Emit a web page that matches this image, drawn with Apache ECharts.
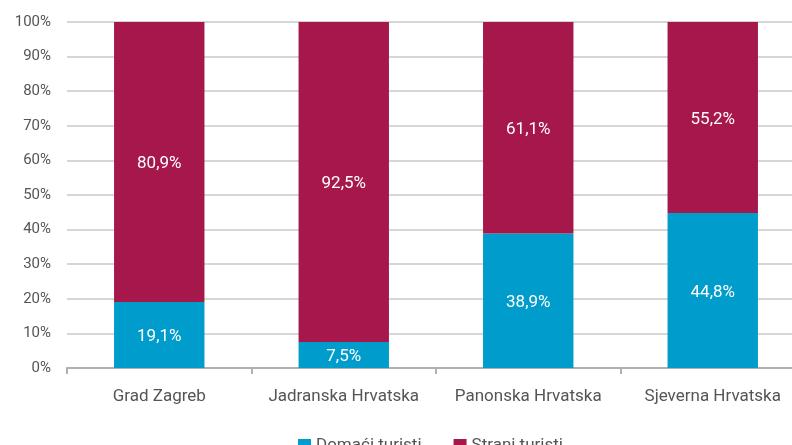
<!DOCTYPE html>
<html>
<head>
<meta charset="utf-8">
<script src="https://cdn.jsdelivr.net/npm/echarts@6/dist/echarts.min.js"></script>
<style>
    html, body { margin: 0; padding: 0; background: #fff; }
    #chart { width: 792px; height: 445px; }
</style>
</head>
<body>
<div id="chart"></div>
<script>
// 数据
const categories = ['Grad Zagreb', 'Jadranska Hrvatska', 'Panonska Hrvatska', 'Sjeverna Hrvatska']
const domaci = [19.1, 7.5, 38.9, 44.8]
const strani = [80.9, 92.5, 61.1, 55.2]
const seriesNames = ['Domaći turisti', 'Strani turisti']

const chart = echarts.init(document.getElementById('chart'))
const font = 'Roboto, "DejaVu Sans", sans-serif'
// 标签 - 小数点用逗号
const fmt = function (p) {
    return p.value.toFixed(1).replace('.', ',') + '%'
}
const option = {
    animation: false,
    color: ['#009ccb', '#a6174b'],
    textStyle: { fontFamily: font },
    legend: {
        data: seriesNames,
        left: 293,
        top: 432,
        itemWidth: 13,
        itemHeight: 13,
        itemGap: 32,
        icon: 'rect',
        textStyle: { color: '#555', fontSize: 17, fontFamily: font }
    },
    // 网格 - 右侧超出画布
    grid: {
        left: 67,
        width: 738,
        top: 22,
        bottom: 77,
        containLabel: false,
        outerBoundsMode: 'none'
    },
    xAxis: {
        type: 'category',
        data: categories,
        axisLine: { lineStyle: { color: '#b0b0b0', width: 2 } },
        axisTick: { show: true, length: 6, lineStyle: { color: '#b0b0b0', width: 2 } },
        axisLabel: { color: '#555', fontSize: 17, margin: 20, interval: 0, hideOverlap: false, fontFamily: font }
    },
    yAxis: {
        type: 'value',
        min: 0,
        max: 100,
        interval: 10,
        axisLine: { show: false },
        axisTick: { show: false },
        axisLabel: { color: '#555', fontSize: 15, margin: 16, formatter: '{value}%', fontFamily: font },
        splitLine: { lineStyle: { color: '#c8c8c8', width: 1.5 } }
    },
    series: [
        {
            name: seriesNames[0],
            type: 'bar',
            stack: 'total',
            barWidth: '49%',
            data: domaci,
            label: { show: true, position: 'inside', offset: [0, 2], color: '#fff', fontSize: 17, formatter: fmt, fontFamily: font }
        },
        {
            name: seriesNames[1],
            type: 'bar',
            stack: 'total',
            barWidth: '49%',
            data: strani,
            label: { show: true, position: 'inside', offset: [0, 2], color: '#fff', fontSize: 17, formatter: fmt, fontFamily: font }
        }
    ]
}
chart.setOption(option)
window.addEventListener('resize', () => {
    chart.resize()
})
</script>
</body>
</html>
